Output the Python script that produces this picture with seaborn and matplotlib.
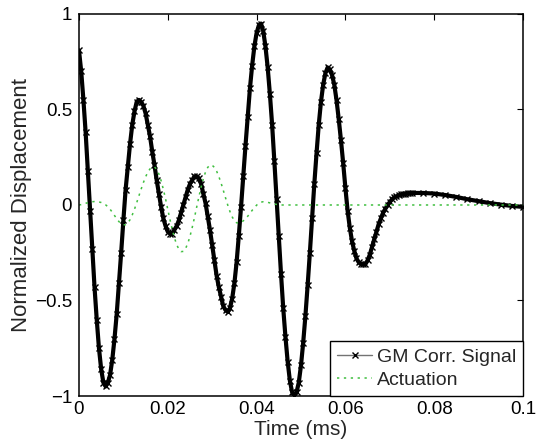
import numpy as np
import matplotlib
matplotlib.use("Agg")
import matplotlib.pyplot as plt
import seaborn as sns

# GM corrected signal, sampled every 0.0005 ms up to 0.075 ms, then a coarser tail
sig_step = 0.0005
sig_head = [
    0.81, 0.70, 0.55, 0.38, 0.18, -0.03, -0.23, -0.43, -0.60, -0.75,
    -0.86, -0.93, -0.95, -0.93, -0.89, -0.81, -0.70, -0.57, -0.41, -0.25,
    -0.08, 0.08, 0.20, 0.32, 0.42, 0.49, 0.54, 0.55, 0.54, 0.52,
    0.48, 0.42, 0.36, 0.28, 0.21, 0.13, 0.06, -0.01, -0.07, -0.11,
    -0.14, -0.15, -0.15, -0.13, -0.11, -0.08, -0.04, 0.00, 0.04, 0.08,
    0.11, 0.13, 0.15, 0.15, 0.14, 0.11, 0.06, 0.01, -0.06, -0.13,
    -0.21, -0.29, -0.37, -0.43, -0.48, -0.53, -0.55, -0.56, -0.54, -0.49,
    -0.41, -0.30, -0.16, -0.01, 0.15, 0.31, 0.46, 0.61, 0.73, 0.83,
    0.90, 0.94, 0.95, 0.91, 0.83, 0.72, 0.58, 0.42, 0.23, 0.03,
    -0.16, -0.36, -0.54, -0.69, -0.82, -0.92, -0.98, -1.00, -0.98, -0.93,
    -0.84, -0.72, -0.58, -0.42, -0.25, -0.07, 0.11, 0.27, 0.42, 0.54,
    0.63, 0.69, 0.72, 0.71, 0.68, 0.63, 0.55, 0.45, 0.34, 0.22,
    0.09, -0.03, -0.12, -0.19, -0.24, -0.28, -0.30, -0.31, -0.31, -0.31,
    -0.29, -0.26, -0.22, -0.18, -0.14, -0.10, -0.07, -0.04, -0.02, 0.00,
    0.015, 0.03, 0.04, 0.045, 0.05, 0.055, 0.058, 0.06, 0.061, 0.062,
    0.063,
]
tail_time = [0.0775, 0.08, 0.0825, 0.085, 0.0875, 0.09, 0.0925, 0.095, 0.0975, 0.1]
tail_sig = [0.063, 0.06, 0.052, 0.042, 0.03, 0.02, 0.01, 0.002, -0.005, -0.01]

# actuation, every 0.0005 ms up to 0.046 ms, then flat
act_head = [
    0.0, 0.002, 0.005, 0.009, 0.012, 0.015, 0.017, 0.018, 0.018, 0.016,
    0.013, 0.008, 0.001, -0.009, -0.022, -0.038, -0.055, -0.072, -0.087, -0.098,
    -0.104, -0.103, -0.094, -0.077, -0.052, -0.022, 0.012, 0.048, 0.083, 0.117,
    0.147, 0.172, 0.189, 0.198, 0.199, 0.187, 0.162, 0.127, 0.082, 0.032,
    -0.023, -0.077, -0.127, -0.172, -0.207, -0.232, -0.244, -0.243, -0.228, -0.202,
    -0.164, -0.118, -0.067, -0.012, 0.042, 0.093, 0.137, 0.173, 0.197, 0.209,
    0.208, 0.197, 0.177, 0.149, 0.115, 0.077, 0.038, 0.000, -0.034, -0.062,
    -0.082, -0.093, -0.095, -0.091, -0.083, -0.072, -0.059, -0.044, -0.028, -0.014,
    -0.001, 0.009, 0.015, 0.017, 0.016, 0.014, 0.011, 0.008, 0.005, 0.003,
    0.001, 0.0, 0.0,
]
act_end_time = [0.1]
act_end = [0.0]

x_ticks = [0, 0.02, 0.04, 0.06, 0.08, 0.1]
x_labels = ["0", "0.02", "0.04", "0.06", "0.08", "0.1"]
y_ticks = [-1, -0.5, 0, 0.5, 1]
y_labels = ["\u22121", "\u22120.5", "0", "0.5", "1"]

t_sig = np.concatenate([np.round(np.arange(len(sig_head)) * sig_step, 4), tail_time])
y_sig = np.concatenate([sig_head, tail_sig])
t_act = np.concatenate([np.round(np.arange(len(act_head)) * sig_step, 4), act_end_time])
y_act = np.concatenate([act_head, act_end])

sns.set_style("white")
plt.rcParams["font.family"] = ["Liberation Sans", "DejaVu Sans"]

fig = plt.figure(figsize=(5.38, 4.44), dpi=100)
ax = fig.add_axes([0.1468, 0.1081, 0.8253, 0.8604])

sns.lineplot(x=t_sig, y=y_sig, ax=ax, color="k", lw=3.0, marker="x",
             markersize=5, markeredgecolor="k", mew=1.0, sort=False,
             label="GM Corr. Signal", legend=False)
sns.lineplot(x=t_act, y=y_act, ax=ax, color="#3fbf3f", lw=1.1,
             linestyle=(0, (1.5, 3.0)), sort=False, label="Actuation", legend=False)

ax.set_xlim(0, 0.1)
ax.set_ylim(-1, 1)
ax.set_xticks(x_ticks)
ax.set_xticklabels(x_labels)
ax.set_yticks(y_ticks)
ax.set_yticklabels(y_labels)
ax.tick_params(direction="in", top=True, right=True, length=4, width=0.8,
               labelsize=13.5, colors="k")
ax.tick_params(axis="x", pad=3.5)
ax.tick_params(axis="y", pad=5)
for sp in ax.spines.values():
    sp.set_color("k")
    sp.set_linewidth(1.1)

ax.set_xlabel("Time (ms)", fontsize=15, labelpad=1.5)
ax.set_ylabel("Normalized Displacement", fontsize=16, labelpad=2)

# legend: thin grey line with x marker for the signal
handles, labels = ax.get_legend_handles_labels()
leg = ax.legend(handles, labels, loc="lower right", fontsize=14, frameon=True,
                fancybox=False, edgecolor="k", framealpha=1, borderaxespad=0,
                handlelength=1.8, handletextpad=0.25, borderpad=0.35,
                labelspacing=0.3)
leg.get_frame().set_linewidth(1.0)
leg.legend_handles[0].set_linewidth(1.0)
leg.legend_handles[0].set_color("0.45")
leg.legend_handles[0].set_markersize(4)
leg.legend_handles[0].set_markeredgecolor("k")
leg.legend_handles[0].set_markevery([1])

fig.savefig("out.png", dpi=100)
